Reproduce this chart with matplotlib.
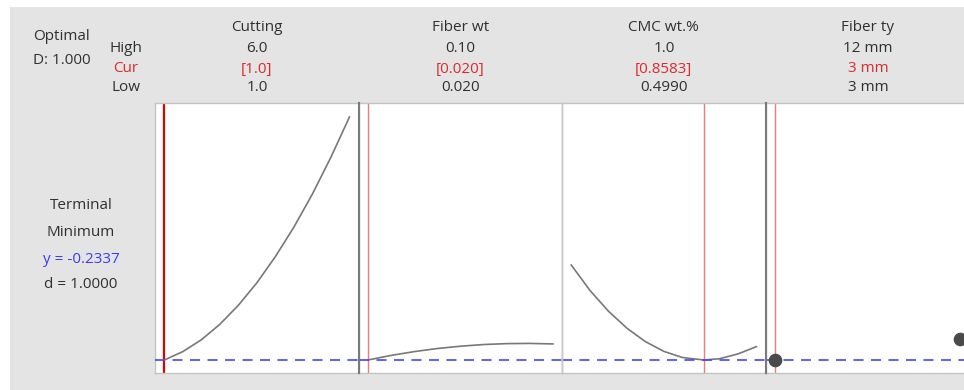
import matplotlib
matplotlib.use("Agg")
import matplotlib.pyplot as plt
from matplotlib.patches import Rectangle
from matplotlib.lines import Line2D

# ---------------- data ----------------
factors = ["Cutting", "Fiber wt", "CMC wt.%", "Fiber ty"]
high_labels = ["6.0", "0.10", "1.0", "12 mm"]
cur_labels = ["[1.0]", "[0.020]", "[0.8583]", "3 mm"]
low_labels = ["1.0", "0.020", "0.4990", "3 mm"]

cutting_x = [1.0, 1.5, 2.0, 2.5, 3.0, 3.5, 4.0, 4.5, 5.0, 5.5, 6.0]
cutting_y = [-0.234, -0.150, -0.032, 0.123, 0.313, 0.538, 0.800, 1.095, 1.426, 1.794, 2.196]

fiberwt_x = [0.020, 0.030, 0.040, 0.050, 0.060, 0.070, 0.080, 0.090, 0.100]
fiberwt_y = [-0.234, -0.188, -0.150, -0.119, -0.096, -0.079, -0.070, -0.068, -0.073]

cmc_x = [0.499, 0.55, 0.60, 0.65, 0.70, 0.75, 0.80, 0.8583, 0.90, 0.95, 1.0]
cmc_y = [0.716, 0.460, 0.253, 0.083, -0.051, -0.148, -0.209, -0.234, -0.221, -0.173, -0.100]

fibertype_cats = ["3 mm", "12 mm"]
fibertype_y = [-0.2337, -0.020]

current = [1.0, 0.020, 0.8583, 0]
lows = [1.0, 0.020, 0.499, 0]
highs = [6.0, 0.10, 1.0, 1]
y_opt = -0.2337

# ---------------- figure ----------------
W, H = 964, 390
fig = plt.figure(figsize=(W / 100, H / 100), dpi=100)
fig.patch.set_facecolor("white")

def fx(x):
    return x / W

def fy(y):
    return 1 - y / H

# gray background panel
fig.patches.append(Rectangle((fx(10), 0), 1 - fx(10), fy(7), transform=fig.transFigure,
                             facecolor="#e4e4e4", edgecolor="none", zorder=-10))

FONT = ["Open Sans", "DejaVu Sans"]
FS = 11
DARK = "#303030"
RED = "#d82c2c"
BLUE = "#3c3cf0"

def t(x, y, s, color=DARK, ha="center"):
    fig.text(fx(x), fy(y), s, ha=ha, va="baseline", fontsize=FS, color=color, family=FONT)

# left header
t(61, 39.5, "Optimal")
t(61.5, 63.5, "D: 1.000")
t(126, 52.5, "High")
t(126, 72.5, "Cur", color=RED)
t(126, 91, "Low")

# left response labels
t(81, 209, "Terminal")
t(81, 236, "Minimum")
t(81, 263, "y = -0.2337", color=BLUE)
t(81, 288, "d = 1.0000")

# panels
top_px, bot_px = 103, 373
pw = 203.7
lefts = [155, 358.5, 562, 766]
ylim = (y_opt - 0.13, y_opt + 2.57)

axes = []
for i, L in enumerate(lefts):
    ax = fig.add_axes([fx(L), fy(bot_px), pw / W, (bot_px - top_px) / H])
    ax.set_facecolor("white")
    lo, hi = lows[i], highs[i]
    m = (hi - lo) * 0.05
    ax.set_xlim(lo - m, hi + m)
    ax.set_ylim(*ylim)
    ax.set_xticks([])
    ax.set_yticks([])
    for s in ax.spines.values():
        s.set_color("#c4c4c4")
        s.set_linewidth(1.0)
    axes.append(ax)

# header texts per panel
for i, L in enumerate(lefts):
    cx = L + pw / 2
    t(cx, 31, factors[i])
    t(cx, 52.5, high_labels[i])
    t(cx, 72.5, cur_labels[i], color=RED)
    t(cx, 91, low_labels[i])

CURVE = "#787878"
axes[0].plot(cutting_x, cutting_y, color=CURVE, lw=1.2, zorder=3)
axes[1].plot(fiberwt_x, fiberwt_y, color=CURVE, lw=1.2, zorder=3)
axes[2].plot(cmc_x, cmc_y, color=CURVE, lw=1.2, zorder=3)

# current setting lines
axes[0].axvline(current[0], color="#e00000", lw=1.6, zorder=2)
for i in (1, 2, 3):
    axes[i].axvline(current[i], color="#f07a7a", lw=1.0, zorder=2)

# optimal response dashed line
for ax in axes:
    ln = ax.axhline(y_opt, color="#4646f5", lw=1.2, zorder=4)
    ln.set_dashes((6, 4.5))

# categorical factor points
cat_pos = list(range(len(fibertype_cats)))
axes[3].plot(cat_pos, fibertype_y, linestyle="none", marker="o", markersize=8.8,
             color="#4a4a4a", zorder=6, clip_on=False)

# panel separators
for xp, col, lw in [(358.5, "#7a7a7a", 1.5), (562, "#c8c8c8", 1.0), (766, "#7a7a7a", 1.5)]:
    fig.add_artist(Line2D([fx(xp), fx(xp)], [fy(bot_px), fy(top_px)], color=col, lw=lw,
                          transform=fig.transFigure, zorder=10))

fig.savefig("out.png", dpi=100, facecolor=fig.get_facecolor())
